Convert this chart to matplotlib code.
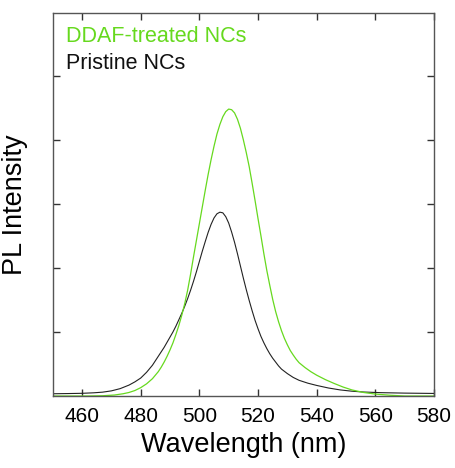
import matplotlib
matplotlib.use("Agg")
import matplotlib.pyplot as plt

plt.rcParams['font.family'] = ['Liberation Sans', 'DejaVu Sans']

# Pristine NCs (black)
wl_pristine = [450, 455, 460, 464, 467, 470, 473, 476, 478, 480, 482, 484, 485, 486,
               487, 488, 489, 490, 491, 492, 493, 494, 495, 496, 497, 498, 499, 500,
               501, 502, 503, 504, 505, 506, 507, 508, 509, 510, 511, 512, 513, 514,
               515, 516, 517, 518, 519, 520, 521, 522, 523, 524, 525, 526, 527, 528,
               530, 532, 534, 537, 540, 544, 548, 552, 556, 562, 570, 580]
pl_pristine = [0.035, 0.038, 0.042, 0.05, 0.06, 0.08, 0.115, 0.17, 0.22, 0.28, 0.37,
               0.48, 0.55, 0.62, 0.69, 0.76, 0.84, 0.92, 1.00, 1.09, 1.19, 1.29, 1.40,
               1.52, 1.65, 1.79, 1.94, 2.10, 2.26, 2.41, 2.555, 2.68, 2.78, 2.845, 2.87,
               2.86, 2.80, 2.70, 2.56, 2.40, 2.22, 2.03, 1.84, 1.66, 1.49, 1.33, 1.18,
               1.05, 0.93, 0.83, 0.74, 0.66, 0.59, 0.53, 0.47, 0.42, 0.35, 0.29, 0.245,
               0.20, 0.165, 0.125, 0.095, 0.075, 0.062, 0.052, 0.045, 0.04]

# DDAF-treated NCs (green)
wl_ddaf = [450, 462, 467, 471, 474, 476, 478, 480, 482, 484, 486, 487, 488, 489, 490,
           491, 492, 493, 494, 495, 496, 497, 498, 499, 500, 501, 502, 503, 504, 505,
           506, 507, 508, 509, 510, 511, 512, 513, 514, 515, 516, 517, 518, 519, 520,
           521, 522, 523, 524, 525, 526, 527, 528, 529, 530, 531, 532, 533, 534, 536,
           538, 540, 543, 546, 549, 552, 556, 560, 565, 570, 580]
pl_ddaf = [0.0, 0.0, 0.004, 0.015, 0.035, 0.055, 0.085, 0.13, 0.19, 0.27, 0.38, 0.45,
           0.53, 0.62, 0.72, 0.83, 0.96, 1.10, 1.26, 1.44, 1.65, 1.90, 2.17, 2.43,
           2.69, 2.95, 3.21, 3.46, 3.69, 3.90, 4.09, 4.24, 4.36, 4.44, 4.48, 4.47,
           4.42, 4.32, 4.18, 4.00, 3.80, 3.58, 3.32, 3.05, 2.77, 2.50, 2.22, 1.96,
           1.73, 1.51, 1.32, 1.16, 1.02, 0.90, 0.80, 0.71, 0.64, 0.575, 0.52, 0.445,
           0.38, 0.325, 0.255, 0.195, 0.14, 0.095, 0.055, 0.03, 0.012, 0.0, 0.0]

x_ticks = [460, 480, 500, 520, 540, 560, 580]
y_ticks = [1, 2, 3, 4, 5]

green = '#66d91e'
frame = '#555555'

fig = plt.figure(figsize=(4.55, 4.68), dpi=100)
ax = fig.add_axes([52.7 / 455, 1 - 396 / 468, (434 - 52.7) / 455, (396 - 13) / 468])

ax.plot(wl_pristine, pl_pristine, color='#222222', lw=0.8)
ax.plot(wl_ddaf, pl_ddaf, color=green, lw=0.9)

ax.set_xlim(450, 580)
ax.set_ylim(0, 5.98)
ax.set_xticks(x_ticks)
ax.set_yticks(y_ticks)
ax.set_yticklabels([])
ax.tick_params(axis='both', direction='in', length=5, width=1, color='#333333',
               top=True, right=True, labelsize=15, pad=8)
for s in ax.spines.values():
    s.set_color(frame)
    s.set_linewidth(1)

ax.set_xlabel('Wavelength (nm)', fontsize=19.5, labelpad=4)
ax.set_ylabel('PL Intensity', fontsize=19.5, labelpad=10)

ax.text(0.035, 0.965, 'DDAF-treated NCs', color=green, fontsize=15.5,
        transform=ax.transAxes, va='top', ha='left')
ax.text(0.035, 0.895, 'Pristine NCs', color='#111111', fontsize=15.5,
        transform=ax.transAxes, va='top', ha='left')

fig.savefig('out.png', dpi=100)
